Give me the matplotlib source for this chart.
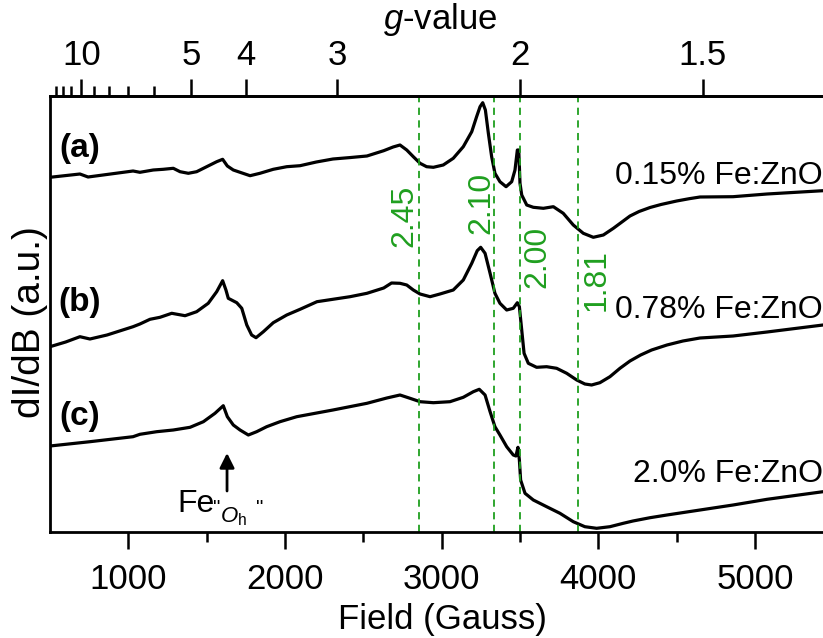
import numpy as np
import matplotlib
matplotlib.use("Agg")
import matplotlib.pyplot as plt

plt.rcParams['font.family'] = ['Liberation Sans', 'DejaVu Sans']
plt.rcParams['mathtext.fontset'] = 'custom'
plt.rcParams['mathtext.rm'] = 'Liberation Sans'
plt.rcParams['mathtext.it'] = 'Liberation Sans:italic'

# g = h*nu / (muB * B)  ->  B[G] = 7000 / g
G_CONST = 7000.0

# (a) 0.15% Fe:ZnO
field_a = [500, 691, 743, 1030, 1074, 1159, 1223, 1287, 1330, 1383, 1436, 1500, 1564,
           1602, 1632, 1670, 1713, 1777, 1840, 1925, 2011, 2096, 2200, 2306, 2420, 2523,
           2630, 2690, 2734, 2777, 2819, 2862, 2904, 2947, 3010, 3074, 3138, 3192, 3223,
           3245, 3262, 3279, 3298, 3319, 3340, 3372, 3411, 3447, 3468, 3483, 3492, 3500,
           3511, 3543, 3585, 3649, 3713, 3776, 3840, 3904, 3968, 4032, 4096, 4159, 4202,
           4260, 4330, 4400, 4500, 4580, 4649, 4860, 5077, 5434]
int_a = [354.7, 358, 355, 361, 359.7, 362, 362.7, 363.7, 360.3, 358.7, 360.3, 365.3, 370.3,
         372.7, 366, 362, 359.7, 356.3, 358.7, 362.7, 365.3, 366.3, 370, 373, 374.5, 376,
         381.3, 385, 387, 382, 375.3, 368.7, 365.3, 364.7, 367, 373.7, 385.3, 400.3, 415.3,
         425.3, 429.3, 422, 398.7, 375.3, 358.7, 350.3, 345.3, 350.3, 362, 382, 382, 348.7,
         337, 327, 324.7, 323.7, 325.3, 318.7, 307, 298.7, 294.7, 297, 303.7, 311, 316,
         320.5, 324.5, 327.5, 331, 333.3, 335, 335.3, 338, 341.3]

# (b) 0.78% Fe:ZnO
field_b = [500, 600, 691, 755, 864, 1030, 1074, 1138, 1202, 1277, 1362, 1436, 1510, 1564,
           1602, 1623, 1638, 1692, 1724, 1756, 1787, 1815, 1862, 1925, 2011, 2096, 2204,
           2415, 2523, 2630, 2680, 2734, 2777, 2819, 2862, 2926, 2989, 3074, 3138, 3192,
           3227, 3249, 3277, 3309, 3340, 3372, 3415, 3457, 3483, 3496, 3511, 3526, 3553,
           3606, 3670, 3734, 3798, 3862, 3914, 3957, 4010, 4074, 4138, 4202, 4270, 4340,
           4438, 4540, 4649, 4860, 5077, 5434]
int_b = [185.3, 190, 195.3, 193, 197, 205.3, 208, 212.7, 214.7, 218.7, 216.3, 220.3, 228.7,
         240.3, 251.3, 242, 233.7, 229.3, 223.7, 207, 197, 194.3, 200.3, 209.3, 217, 222.7,
         230.3, 235.3, 238.7, 244, 249, 248.7, 247, 242, 238, 235.3, 238, 242, 252, 268.7,
         281.3, 284.7, 278.7, 258.7, 238.7, 228.7, 222, 223.7, 229.3, 225.3, 202, 178.7,
         168.7, 164.7, 165.3, 163.7, 158.7, 152, 148, 147, 149.3, 155.3, 163.7, 171, 177,
         182, 187, 191, 194, 196, 200, 207]

# (c) 2.0% Fe:ZnO
field_c = [500, 755, 1030, 1074, 1181, 1287, 1394, 1479, 1553, 1606, 1632, 1670, 1713,
           1766, 1819, 1883, 1968, 2075, 2306, 2523, 2650, 2734, 2798, 2862, 2947, 3053,
           3138, 3202, 3240, 3277, 3309, 3340, 3372, 3415, 3457, 3474, 3487, 3496, 3504,
           3532, 3585, 3670, 3755, 3840, 3914, 3989, 4074, 4159, 4221, 4330, 4438, 4649,
           4860, 5077, 5434]
int_c = [86, 90.3, 95.3, 97.7, 100.3, 102, 104.7, 110.3, 118.7, 126.3, 115.3, 107, 102,
         97, 100.3, 105.3, 110.3, 115.3, 122, 128.7, 134, 137, 133.7, 130.3, 129.3, 130.3,
         134.7, 140.3, 142.7, 137, 120.3, 105.3, 97, 85.3, 77, 76, 84.7, 72, 52,
         38.7, 32, 25.3, 18.7, 10.3, 5.3, 3.7, 5.3, 8.7, 11, 14.3, 17, 22,
         27, 32.7, 40.3]

sample_tags = ['(a)', '(b)', '(c)']
sample_names = ['0.15% Fe:ZnO', '0.78% Fe:ZnO', '2.0% Fe:ZnO']

g_marks = [2.45, 2.10, 2.00, 1.81]
g_major = [10, 5, 4, 3, 2, 1.5]
g_minor = [13, 12, 11, 9, 8, 7, 6]

green = '#1f9f1f'


def fx(px):
    return px / 823


def fy(py):
    return 1 - py / 638


fig = plt.figure(figsize=(8.23, 6.38), dpi=100)
ax = fig.add_axes([fx(50), fy(532), 773 / 823, 436 / 638])

for f, y in [(field_a, int_a), (field_b, int_b), (field_c, int_c)]:
    ax.plot(f, y, color='black', lw=2.3, solid_joinstyle='round', solid_capstyle='round')

for g in g_marks:
    ax.axvline(G_CONST / g, color=green, lw=1.3, ls=(0, (4, 3)))

ax.set_xlim(500, 5434)
ax.set_ylim(0, 436)
ax.set_yticks([])
ax.set_xticks([1000, 2000, 3000, 4000, 5000])
ax.set_xticks([1500, 2500, 3500, 4500], minor=True)
ax.tick_params(axis='x', which='major', length=12, width=1.8, labelsize=25, pad=10)
ax.tick_params(axis='x', which='minor', length=7, width=1.8)
ax.spines['right'].set_visible(False)
for s in ['left', 'top', 'bottom']:
    ax.spines[s].set_linewidth(2.0)

# top g-value axis
top = ax.twiny()
top.set_xlim(ax.get_xlim())
top.set_xticks([G_CONST / g for g in g_major])
top.set_xticklabels(['%g' % g for g in g_major])
top.set_xticks([G_CONST / g for g in g_minor], minor=True)
top.tick_params(axis='x', which='major', length=12, width=1.8, labelsize=25, pad=5)
top.tick_params(axis='x', which='minor', length=7, width=1.8)
for s in ['left', 'right', 'bottom']:
    top.spines[s].set_visible(False)
top.spines['top'].set_linewidth(2.0)

# axis titles
fig.text(fx(442), fy(619), 'Field (Gauss)', fontsize=25, ha='center', va='center')
fig.text(fx(30), fy(322), 'dI/dB (a.u.)', fontsize=28, rotation=90,
         ha='center', va='center')
fig.text(fx(440), fy(20), '$g$-value', fontsize=25, ha='center', va='center')

# sample labels
for tag, yy in zip(sample_tags, [148, 302, 417]):
    fig.text(fx(80), fy(yy), tag, fontsize=24, fontweight='bold',
             ha='center', va='center')
for name, yy in zip(sample_names, [184, 318, 482]):
    fig.text(1.0, fy(yy), name, fontsize=23, ha='right', va='baseline')

# g-value labels next to the dashed lines
for g, (px, py) in zip(g_marks, [(404, 216), (481, 203), (537, 257), (597, 280)]):
    fig.text(fx(px), fy(py), '%.2f' % g, color=green, fontsize=23,
             rotation=90, ha='center', va='center')

# Fe "Oh" marker
ax.annotate('', xy=(1630, 79), xytext=(1630, 41),
            arrowprops=dict(arrowstyle='-|>', color='black', lw=2, mutation_scale=22,
                            shrinkA=0, shrinkB=0))
fig.text(fx(177), fy(512), 'Fe', fontsize=23, ha='left', va='baseline')
fig.text(fx(213), fy(514), '"', fontsize=15, ha='left', va='baseline')
fig.text(fx(220), fy(522), r'$O_\mathrm{h}$', fontsize=16, ha='left', va='baseline')
fig.text(fx(256), fy(514), '"', fontsize=15, ha='left', va='baseline')

fig.savefig('out.png', dpi=100)
